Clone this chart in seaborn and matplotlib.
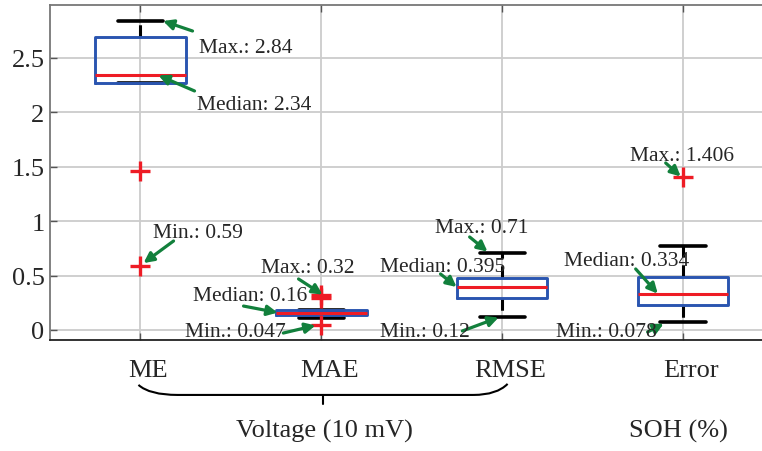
import numpy as np
import pandas as pd
import matplotlib
matplotlib.use("Agg")
import matplotlib.pyplot as plt
import matplotlib.transforms as mtransforms
from matplotlib.path import Path
from matplotlib.patches import PathPatch
import seaborn as sns

# ---- data -------------------------------------------------------------
categories = ["ME", "MAE", "RMSE", "Error"]
q1 = [2.27, 0.14, 0.295, 0.23]
q3 = [2.69, 0.187, 0.48, 0.485]
medians = [2.34, 0.16, 0.395, 0.334]
whisker_lo = [2.27, 0.107, 0.12, 0.078]
whisker_hi = [2.84, 0.187, 0.71, 0.775]
outliers = [[1.46, 0.59], [0.32, 0.29, 0.047], [], [1.406]]
y_ticks = [0, 0.5, 1, 1.5, 2, 2.5]
y_tick_labels = ["0", "0.5", "1", "1.5", "2", "2.5"]
group_labels = ["Voltage (10 mV)", "SOH (%)"]

# ---- style ------------------------------------------------------------
sns.set_style("whitegrid")
plt.rcParams["font.family"] = ["Liberation Serif", "DejaVu Serif"]

BLUE = "#2a55b0"
RED = "#ee1c25"
GREEN = "#12803c"
GRID = "#cccccc"

fig = plt.figure(figsize=(7.62, 4.52), dpi=100)
W, H = 762.0, 452.0
ax_left, ax_right, ax_top, ax_bottom = 50.0, 773.5, 6.0, 341.0
ax = fig.add_axes([ax_left / W, (H - ax_bottom) / H,
                   (ax_right - ax_left) / W, (ax_bottom - ax_top) / H])

positions = np.arange(1, len(categories) + 1)

# box statistics drawn with matplotlib's bxp on the seaborn-styled axes
stats = []
for i, name in enumerate(categories):
    stats.append(dict(label=name, med=medians[i], q1=q1[i], q3=q3[i],
                      whislo=whisker_lo[i], whishi=whisker_hi[i], fliers=[]))

ax.bxp(stats, positions=positions, widths=0.5, capwidths=0.25,
       showfliers=False, manage_ticks=False,
       boxprops=dict(color=BLUE, linewidth=2.1, zorder=4),
       medianprops=dict(color=RED, linewidth=2.2, zorder=5),
       whiskerprops=dict(color="black", linewidth=2.2,
                         linestyle=(0, (4, 2.5)), zorder=3),
       capprops=dict(color="black", linewidth=2.6, zorder=3))

# outliers
out_df = pd.DataFrame(
    [(positions[i], v) for i, vals in enumerate(outliers) for v in vals],
    columns=["pos", "value"])
sns.scatterplot(data=out_df, x="pos", y="value", ax=ax, marker="+",
                color=RED, s=190, linewidth=2.4, zorder=6, legend=False)

# ---- axes -------------------------------------------------------------
ax.set_xlim(0.5, 4.5)
ax.set_ylim(-0.092, 2.987)
ax.set_xticks(positions)
ax.set_xticklabels([])
ax.set_yticks(y_ticks)
ax.set_yticklabels(y_tick_labels, fontsize=19)
ax.set_xlabel("")
ax.set_ylabel("")
ax.grid(True, color=GRID, linewidth=1.3)
ax.set_axisbelow(True)
ax.tick_params(axis="both", direction="in", length=5, width=1.0,
               color="#555555", top=True, right=False, left=True,
               bottom=True, pad=4)
for side in ["left", "top"]:
    ax.spines[side].set_color("#777777")
    ax.spines[side].set_linewidth(1.3)
ax.spines["bottom"].set_color("#222222")
ax.spines["bottom"].set_linewidth(1.3)
ax.spines["right"].set_visible(False)

# category labels below the axis
blend = mtransforms.blended_transform_factory(ax.transData, ax.transAxes)
shift = mtransforms.ScaledTranslation(8 / 100, 0, fig.dpi_scale_trans)
for pos, name in zip(positions, categories):
    ax.text(pos, -0.0896, name, transform=blend + shift, ha="center",
            va="center", fontsize=19, clip_on=False)

# brace grouping the voltage metrics
brace_y0, brace_y1, tick_y = -0.134, -0.164, -0.191
verts = [(0.989, brace_y0), (1.05, brace_y1), (1.205, brace_y1),
         (2.842, brace_y1),
         (2.842, brace_y1), (2.97, brace_y1), (3.03, brace_y0 + 0.003)]
codes = [Path.MOVETO, Path.CURVE3, Path.CURVE3, Path.LINETO,
         Path.MOVETO, Path.CURVE3, Path.CURVE3]
ax.add_patch(PathPatch(Path(verts, codes), facecolor="none",
                       edgecolor="black", linewidth=1.5,
                       transform=blend, clip_on=False))
ax.plot([2.012, 2.012], [brace_y1, tick_y], color="black", linewidth=1.5,
        transform=blend, clip_on=False)

ax.text(2.015, -0.269, group_labels[0], transform=blend, ha="center",
        va="center", fontsize=19, clip_on=False)
ax.text(3.976, -0.269, group_labels[1], transform=blend, ha="center",
        va="center", fontsize=19, clip_on=False)

# ---- value call-outs --------------------------------------------------
# (label, value, category index, head dx, head dy, tail xy, text-left xy)
callouts = [
    ("Max.", whisker_hi[0], 0, 0.125, 0.0, (1.288, 2.748), (1.326, 2.60)),
    ("Median", medians[0], 0, 0.10, 0.0, (1.299, 2.197), (1.315, 2.077)),
    ("Min.", min(outliers[0]), 0, 0.017, 0.025, (1.183, 0.818), (1.072, 0.90)),
    ("Max.", max(outliers[1]), 1, 0.007, 0.005, (1.874, 0.469), (1.669, 0.57)),
    ("Median", medians[1], 1, -0.242, 0.0, (1.570, 0.22), (1.293, 0.3125)),
    ("Min.", min(outliers[1]), 1, -0.032, -0.005, (1.79, -0.028), (1.249, -0.018)),
    ("Max.", whisker_hi[2], 2, -0.081, 0.01, (2.82, 0.855), (2.626, 0.9375)),
    ("Median", medians[2], 2, -0.252, 0.0, (2.659, 0.515), (2.327, 0.588)),
    ("Min.", whisker_lo[2], 2, -0.02, -0.005, (2.78, -0.009), (2.327, -0.018)),
    ("Max.", max(outliers[3]), 3, -0.013, 0.005, (3.904, 1.535), (3.705, 1.608)),
    ("Median", medians[3], 3, -0.14, 0.0, (3.738, 0.561), (3.34, 0.643)),
    ("Min.", whisker_lo[3], 3, -0.107, -0.02, (3.804, -0.018), (3.30, -0.018)),
]
for label, value, idx, hdx, hdy, tail, txt in callouts:
    head = (positions[idx] + hdx, value + hdy)
    ax.annotate("", xy=head, xytext=tail,
                arrowprops=dict(arrowstyle="-|>", color=GREEN, lw=2.3,
                                mutation_scale=15, shrinkA=0, shrinkB=0),
                zorder=7, annotation_clip=False)
    ax.text(txt[0], txt[1], f"{label}: {value:g}", ha="left", va="center",
            fontsize=15.5, zorder=8, clip_on=False)

fig.savefig("out.png", dpi=100)
